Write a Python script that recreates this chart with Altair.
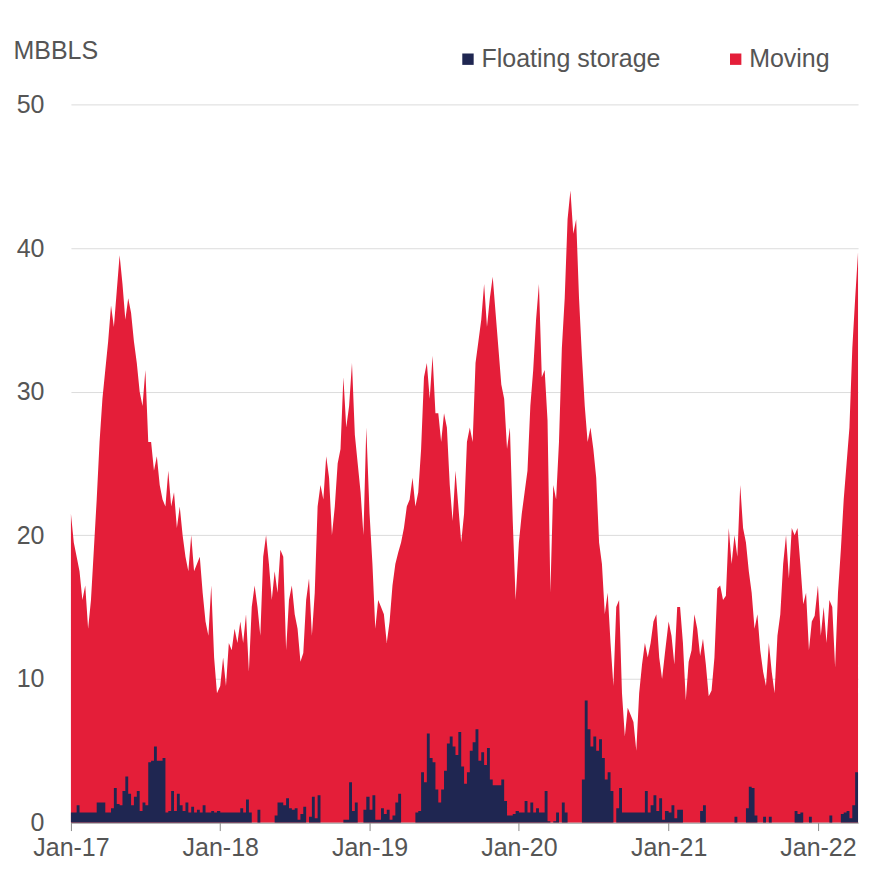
import altair as alt
import pandas as pd

RED = "#E41E39"
NAVY = "#1F2651"
GREY = "#555555"
FONT = "Liberation Sans"

years = [2017, 2018, 2019, 2020, 2021, 2022]

# Total height of the stack (top of the red area), weekly readings, MBBLS
total_2017 = [21.5, 19.5, 18.5, 17.5, 15.5, 16.5, 13.5, 15.5, 19, 22.5, 26.5, 29.5, 31.5, 33.5, 36, 34.5, 37, 39.5, 37.5, 35,
              36.5, 35.5, 33.5, 32, 30, 29, 31.5, 26.5, 26.5, 24.5, 25.5, 23.5, 22.5, 22, 24.5, 22, 23, 20.5, 22, 20,
              18.5, 17.5, 20, 17.5, 18, 18.5, 16, 14, 13, 16.5, 11.5, 9]
total_2018 = [9.5, 11.5, 9.5, 12.5, 12, 13.5, 12.5, 14, 12.5, 14.5, 10.5, 15, 16.5, 15, 13, 18.5, 20, 18, 15.5, 17.5,
              16, 19, 18.5, 12, 15.5, 16.5, 14.5, 13.5, 11.2, 11.8, 15.5, 17, 13, 16, 22, 23.5, 22.5, 25.5, 24, 20,
              22, 25, 26, 31, 27.5, 29, 32, 27, 25, 23, 20, 27.5]
total_2019 = [21.5, 18, 13.5, 15.5, 15, 14.5, 12.5, 14, 16.5, 18, 18.8, 19.5, 20.5, 22, 22.5, 24, 22, 23, 26, 31,
              32, 29.5, 32.5, 28.5, 28.5, 26.5, 28.5, 27.5, 23.5, 21, 24.5, 22, 19.5, 21.5, 26.5, 27.5, 26.5, 32, 33.5, 35,
              37.5, 34.5, 36.5, 38, 35.5, 33, 30.5, 29.5, 26, 27.5, 21, 15.5]
total_2020 = [19.5, 21.5, 23, 24.5, 29, 31.5, 35, 37.5, 31, 31.5, 28, 16, 23.5, 22.5, 26.5, 33, 36.5, 42, 44, 41,
              42, 36.5, 32.5, 29, 26.5, 27.5, 26, 24, 19.5, 18, 14.5, 16, 12.5, 9.5, 15, 15.5, 9, 6, 8, 7.5,
              7, 5, 9, 11, 12.5, 11.5, 12.5, 14, 14.5, 11.5, 10, 11.8]
total_2021 = [14, 13, 11, 15, 15, 12.5, 8.5, 11.2, 12, 14.5, 13.5, 11.6, 12.8, 11, 8.8, 9.2, 11.5, 16.3, 16.5, 15.5,
              15.8, 20.5, 18, 20, 18.5, 23.5, 20.5, 19.5, 17.5, 16, 13.5, 14.5, 12, 10.5, 9.5, 12.5, 10.5, 9, 13, 14.5,
              18, 20, 17, 20.5, 20, 20.5, 18, 15.2, 16, 12, 14, 14.4]
total_2022 = [16.5, 13, 15, 12.5, 15.5, 15, 10.8, 16, 19, 22.5, 25, 27.5, 33, 36.5, 39.7]

# Floating storage, weekly readings, MBBLS
floating_2017 = [0.7, 0.7, 1.2, 0.7, 0.7, 0.7, 0.7, 0.7, 0.7, 1.4, 1.4, 1.4, 0.7, 0.7, 1.0, 2.4, 1.3, 1.2, 2.2, 3.2,
                 2.0, 1.2, 1.8, 2.2, 0.8, 1.4, 1.2, 4.2, 4.3, 5.3, 4.3, 4.3, 4.5, 0.7, 0.8, 2.2, 0.8, 2.0, 1.2, 0.8,
                 1.4, 0.7, 1.1, 0.7, 0.9, 0.7, 1.2, 0.7, 0.7, 0.8, 0.7, 0.8]
floating_2018 = [0.7, 0.7, 0.7, 0.7, 0.7, 0.7, 0.7, 1.0, 0.7, 1.6, 0.7, 0, 0, 0.9, 0, 0, 0, 0, 0, 0.5,
                 1.4, 1.4, 1.2, 1.7, 1.0, 0.9, 1.0, 0.2, 0.6, 1.1, 0, 0.4, 1.8, 0.3, 1.9, 0, 0, 0, 0, 0,
                 0, 0, 0, 0.2, 0.2, 2.8, 0.8, 1.4, 0, 0, 0.9, 1.8]
floating_2019 = [0.9, 1.9, 0.2, 0.2, 1.0, 0.6, 0.9, 0.2, 0.5, 1.4, 2.0, 0, 0, 0, 0, 0, 0.7, 0.8, 3.5, 2.8,
                 6.2, 4.5, 4.2, 2.3, 1.4, 2.3, 3.6, 5.5, 6.0, 5.3, 4.7, 6.3, 3.9, 2.7, 3.5, 5.0, 5.6, 6.5, 4.3, 4.9,
                 4.0, 5.2, 3.0, 2.6, 2.6, 2.6, 3.0, 1.5, 0.5, 0.5, 0.6, 0.8]
floating_2020 = [0.7, 0.7, 1.5, 0.7, 1.4, 0.7, 1.0, 0.7, 0.7, 2.2, 0.1, 0, 0.1, 0.7, 0, 1.4, 0.7, 0, 0, 0,
                 0, 0, 3.0, 8.5, 6.5, 5.3, 6.0, 5.0, 5.8, 4.5, 3.0, 3.5, 2.2, 0, 1.0, 2.4, 0.7, 0.7, 0.7, 0.7,
                 0.7, 0.7, 0.7, 0.7, 2.2, 0.7, 1.2, 1.9, 0.8, 1.7, 0.2, 0.8]
floating_2021 = [0.7, 1.2, 0.3, 0.9, 0.9, 0, 0, 0, 0, 0, 0, 0.8, 1.2, 0, 0, 0, 0, 0, 0, 0,
                 0, 0, 0, 0.4, 0, 0, 0, 1.0, 2.5, 2.4, 0.5, 0, 0, 0.4, 0, 0.4, 0, 0, 0, 0,
                 0, 0, 0, 0, 0.8, 0.6, 0.7, 0, 0, 0.4, 0, 0]
floating_2022 = [0, 0, 0, 0, 0.5, 0, 0, 0, 0.6, 0.7, 0.8, 0.3, 1.2, 3.5, 1.5]

totals = [total_2017, total_2018, total_2019, total_2020, total_2021, total_2022]
floats = [floating_2017, floating_2018, floating_2019, floating_2020, floating_2021, floating_2022]

rows = []
for yr, tot, flo in zip(years, totals, floats):
    start = pd.Timestamp(f"{yr}-01-01")
    for i, (t, f) in enumerate(zip(tot, flo)):
        d = (start + pd.Timedelta(days=7 * i)).strftime("%Y-%m-%d")
        rows.append({"date": d, "series": "Moving", "value": t})
        rows.append({"date": d, "series": "Floating storage", "value": f})
df = pd.DataFrame(rows)
last_date = df["date"].max()

tick_values = [alt.DateTime(year=y, month=1, date=1) for y in years]

color = alt.Color(
    "series:N",
    scale=alt.Scale(domain=["Floating storage", "Moving"], range=[NAVY, RED]),
    legend=alt.Legend(
        title=None, orient="none", direction="horizontal",
        legendX=385, legendY=-58,
        symbolType="square", symbolSize=130, symbolStrokeWidth=0, symbolOpacity=1,
        labelFontSize=25, labelColor=GREY, labelFont=FONT, labelLimit=0,
        columnPadding=62, labelOffset=1,
    ),
)

x = alt.X(
    "date:T",
    scale=alt.Scale(domain=["2017-01-01", last_date]),
    axis=alt.Axis(
        values=tick_values, format="%b-%y", title=None, grid=False,
        labelFontSize=25, labelColor=GREY, labelFont=FONT,
        labelFlush=False, labelOverlap=False, labelBound=False, labelAlign="center",
        tickSize=8, tickColor="#8a8a8a", domainColor="#8a8a8a", labelPadding=5,
    ),
)

y = alt.Y(
    "value:Q",
    stack=None,
    scale=alt.Scale(domain=[0, 50], nice=False),
    axis=alt.Axis(
        values=[0, 10, 20, 30, 40, 50], grid=True, gridColor="#dcdcdc", domain=False, ticks=False,
        labelFontSize=25, labelColor=GREY, labelFont=FONT, labelPadding=27,
        title="MBBLS", titleAngle=0, titleX=-58, titleY=-46, titleAlign="left",
        titleBaseline="alphabetic", titleFontSize=25, titleFontWeight="normal",
        titleColor=GREY, titleFont=FONT,
    ),
)

base = alt.Chart(df).encode(x=x, y=y, color=color)

moving = base.transform_filter(alt.datum.series == "Moving").mark_area(interpolate="linear", opacity=1)
floating = base.transform_filter(alt.datum.series == "Floating storage").mark_area(interpolate="step-after", opacity=1)

chart = (
    alt.layer(moving, floating)
    .properties(
        width=788, height=719,
        autosize="none",
        padding={"left": 63, "top": 96, "right": 30, "bottom": 60},
    )
    .configure(font=FONT)
    .configure_view(strokeWidth=0)
)

chart.save("out.html", embed_options={"renderer": "svg", "actions": False})
